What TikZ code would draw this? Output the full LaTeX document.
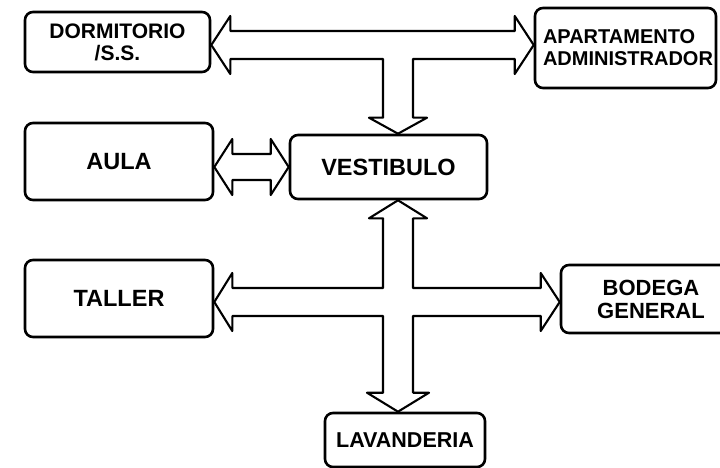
\documentclass[tikz,border=0pt]{standalone}
\usepackage{fontspec}
\setmainfont{Liberation Sans}
\usetikzlibrary{calc}

\newcommand{\fsz}[1]{\fontsize{#1}{#1}\selectfont\bfseries}

\begin{document}
\begin{tikzpicture}[x=1pt, y=-1pt,
    room/.style={draw, line width=2.6pt, rounded corners=8pt, align=center, inner sep=2pt, font=\fsz{22}},
    hollow/.style={draw, line width=2.1pt, line join=round}]
  \useasboundingbox (0,0) rectangle (720,468);

  % rooms
  \node[room, minimum width=185pt, minimum height=60pt, font=\fsz{21}] (dorm) at (117.5,42) {DORMITORIO\\[1pt]/S.S.};
  \node[room, minimum width=181pt, minimum height=80pt, font=\fsz{20}, align=left, text width=165pt, inner xsep=8pt] (apto) at (625.5,48) {APARTAMENTO\\[2pt]ADMINISTRADOR};
  \node[room, minimum width=188pt, minimum height=77pt, font=\fsz{23.5}] (aula) at (119,161.5) {AULA};
  \node[room, minimum width=197pt, minimum height=64pt, font=\fsz{23.5}] (vest) at (388.5,167) {VESTIBULO};
  \node[room, minimum width=188pt, minimum height=77pt, font=\fsz{23.5}] (taller) at (119,298.5) {TALLER};
  \node[room, minimum width=180pt, minimum height=68pt] (bodega) at (651,299) {BODEGA\\[1pt]GENERAL};
  \node[room, minimum width=160pt, minimum height=54pt, font=\fsz{21.5}] (lav) at (405,440) {LAVANDERIA};

  % junctions
  \coordinate (tj) at (398,45);
  \coordinate (cj) at (398,302);

  % top T arrow
  \draw[hollow] (dorm.east |- tj) -- ++(19,-29) -- ++(0,15)
    -- ($(apto.west |- tj)+(-19,-14)$) -- ++(0,-15) -- (apto.west |- tj)
    -- ++(-19,29) -- ++(0,-15) -- ($(tj)+(15,14)$)
    -- ($(vest.north -| tj)+(15,-16)$) -- ++(14,0) -- (vest.north -| tj)
    -- ++(-29,-16) -- ++(14,0) -- ($(tj)+(-15,14)$)
    -- ($(dorm.east |- tj)+(19,14)$) -- ++(0,15) -- cycle;

  % aula - vestibulo
  \draw[hollow] (aula.east |- vest.west) -- ++(18,-28) -- ++(0,15)
    -- ($(vest.west)+(-18,-13)$) -- ++(0,-15) -- (vest.west)
    -- ++(-18,28) -- ++(0,-15)
    -- ($(aula.east |- vest.west)+(18,13)$) -- ++(0,15) -- cycle;

  % cross arrow
  \draw[hollow] (vest.south -| cj) -- ++(29,18) -- ++(-14,0)
    -- ($(cj)+(15,-14)$) -- ($(bodega.west |- cj)+(-19,-14)$) -- ++(0,-15)
    -- (bodega.west |- cj) -- ++(-19,29) -- ++(0,-15)
    -- ($(cj)+(15,14)$) -- ($(lav.north -| cj)+(15,-19)$) -- ++(16,0)
    -- (lav.north -| cj) -- ++(-31,-19) -- ++(16,0)
    -- ($(cj)+(-15,14)$) -- ($(taller.east |- cj)+(18,14)$) -- ++(0,15)
    -- (taller.east |- cj) -- ++(18,-29) -- ++(0,15)
    -- ($(cj)+(-15,-14)$) -- ($(vest.south -| cj)+(-15,18)$) -- ++(-14,0) -- cycle;
\end{tikzpicture}
\end{document}
